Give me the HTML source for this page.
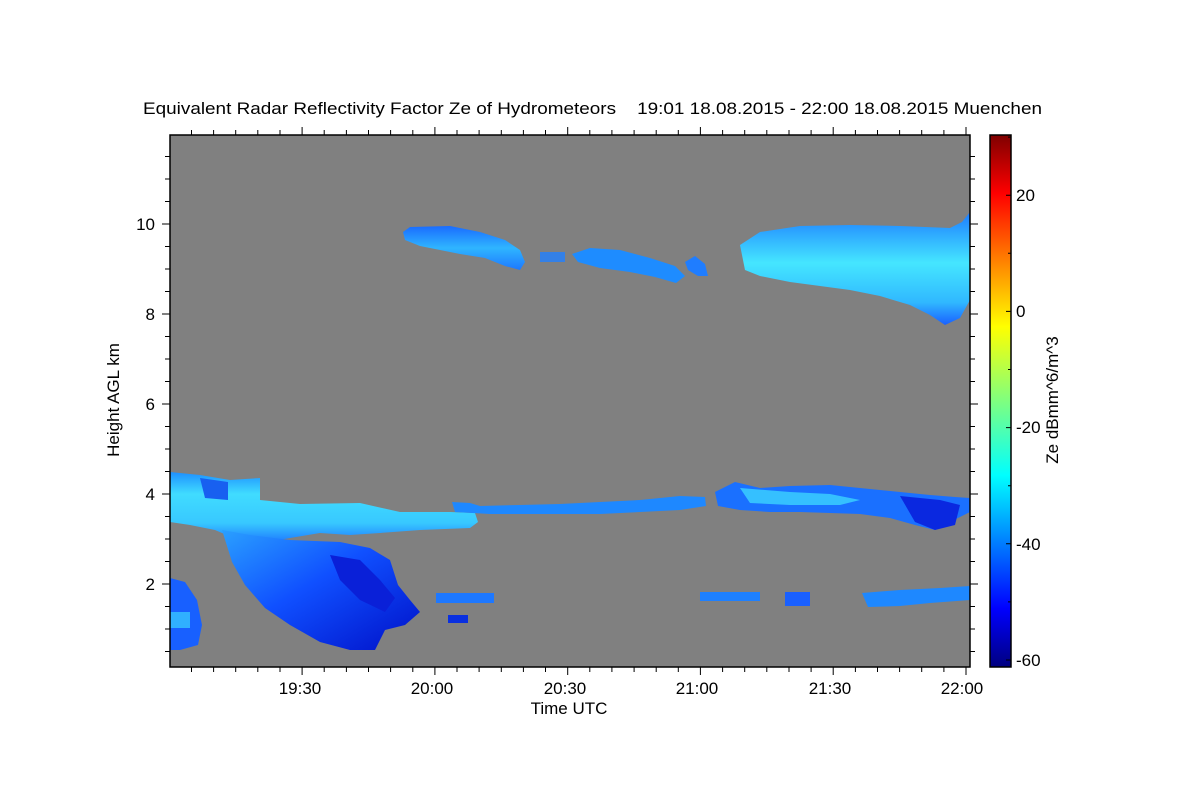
<!DOCTYPE html>
<html><head><meta charset="utf-8"><style>
html,body{margin:0;padding:0;background:#fff;}
svg{display:block;font-family:"Liberation Sans",sans-serif;}
</style></head><body>
<svg width="1200" height="800" viewBox="0 0 1200 800">
<defs>
<linearGradient id="jet" x1="0" y1="1" x2="0" y2="0">
<stop offset="0" stop-color="#00007f"/>
<stop offset="0.11" stop-color="#0000ff"/>
<stop offset="0.36" stop-color="#00ffff"/>
<stop offset="0.5" stop-color="#7fff7f"/>
<stop offset="0.64" stop-color="#ffff00"/>
<stop offset="0.89" stop-color="#ff0000"/>
<stop offset="1" stop-color="#7f0000"/>
</linearGradient>
<linearGradient id="up" x1="0" y1="0" x2="0" y2="1">
<stop offset="0" stop-color="#1a6cff"/><stop offset="0.5" stop-color="#2fb5ff"/><stop offset="1" stop-color="#1e78ff"/>
</linearGradient>
<linearGradient id="upR" x1="0" y1="0" x2="0" y2="1">
<stop offset="0" stop-color="#1d7cff"/><stop offset="0.45" stop-color="#45e6ff"/><stop offset="0.8" stop-color="#30b8ff"/><stop offset="1" stop-color="#1a60ff"/>
</linearGradient>
<linearGradient id="lay" x1="0" y1="0" x2="0" y2="1">
<stop offset="0" stop-color="#1e90ff"/><stop offset="0.3" stop-color="#40dcff"/><stop offset="0.7" stop-color="#38c8ff"/><stop offset="1" stop-color="#1a70ff"/>
</linearGradient>
<linearGradient id="fall" x1="0" y1="0" x2="1" y2="1">
<stop offset="0" stop-color="#2aa0ff"/><stop offset="0.45" stop-color="#1050ff"/><stop offset="1" stop-color="#0010c8"/>
</linearGradient>
</defs>
<rect x="170" y="135" width="800" height="532" fill="#808080"/>
<polygon points="403,232 410,227 450,226 480,232 505,240 520,250 525,262 520,270 505,266 485,258 460,254 440,250 420,246 405,240" fill="url(#up)"/>
<polygon points="572,254 590,248 620,250 650,258 675,266 685,276 676,283 655,277 630,272 600,268 578,262" fill="#1e8cff"/>
<polygon points="685,262 695,256 705,264 708,276 698,276 688,270" fill="#1f7dff"/>
<rect x="540" y="252" width="25" height="10" fill="#2080ff" opacity="0.8"/>
<polygon points="740,245 760,232 800,226 850,225 900,226 950,228 962,222 970,212 970,300 960,318 945,325 930,315 910,305 880,296 850,290 820,286 790,282 760,276 745,270" fill="url(#upR)"/>
<polygon points="170,472 200,475 230,480 260,478 260,500 300,504 360,503 400,512 450,512 475,513 478,522 470,528 420,530 380,533 350,535 320,533 290,538 250,545 215,530 190,525 170,522" fill="url(#lay)"/>
<polygon points="200,478 228,482 228,500 205,498" fill="#1860f0"/>
<polygon points="222,530 250,535 290,540 340,542 370,548 390,560 398,585 410,600 420,612 405,625 385,630 375,650 350,650 320,642 290,625 265,608 245,585 232,562" fill="url(#fall)"/>
<polygon points="330,555 360,560 380,580 395,598 385,612 360,600 340,580" fill="#0a20d8"/>
<polygon points="170,578 185,582 197,600 202,625 198,645 180,650 170,650" fill="#1860ff"/>
<rect x="170" y="612" width="20" height="16" fill="#30b0ff"/>
<polygon points="452,502 470,503 480,506 520,505 560,504 600,502 640,500 680,496 705,497 706,506 680,510 640,512 600,514 540,514 490,514 455,512" fill="#1e88ff"/>
<polygon points="715,492 735,482 760,488 790,486 830,485 860,488 900,492 930,495 955,497 970,498 970,512 950,522 935,530 915,525 890,518 860,514 830,513 800,512 770,512 740,510 718,506" fill="#1a70ff"/>
<polygon points="900,496 940,500 960,505 955,525 935,530 915,522" fill="#0a28e0"/>
<polygon points="740,488 790,492 830,494 860,500 840,505 790,505 750,503" fill="#35c0ff"/>
<rect x="436" y="593" width="58" height="10" fill="#1e78ff"/>
<rect x="448" y="615" width="20" height="8" fill="#0a30e0"/>
<rect x="700" y="592" width="60" height="9" fill="#1e80ff"/>
<rect x="785" y="592" width="25" height="14" fill="#1a60ff"/>
<polygon points="862,593 900,590 940,588 970,586 970,600 930,603 900,606 868,607" fill="#1e88ff"/>
<g stroke="#000" stroke-width="1.5" fill="none">
<rect x="170" y="135" width="800" height="532"/>
<rect x="990" y="135" width="21" height="532" fill="url(#jet)"/>
</g>
<g stroke="#000" stroke-width="1">
<path d="M966,135v-8M833.2,135v-8M700.4,135v-8M567.7,135v-8M434.9,135v-8M302.1,135v-8
M966,667v8M833.2,667v8M700.4,667v8M567.7,667v8M434.9,667v8M302.1,667v8
M943.9,135v-5M921.7,135v-5M899.6,135v-5M877.5,135v-5M855.4,135v-5M811.1,135v-5M789,135v-5M766.8,135v-5M744.7,135v-5M722.6,135v-5M678.3,135v-5M656.2,135v-5M634.1,135v-5M611.9,135v-5M589.8,135v-5M545.5,135v-5M523.4,135v-5M501.3,135v-5M479.1,135v-5M457,135v-5M412.8,135v-5M390.6,135v-5M368.5,135v-5M346.4,135v-5M324.2,135v-5M280,135v-5M257.8,135v-5M235.7,135v-5M213.6,135v-5M191.5,135v-5
M943.9,667v5M921.7,667v5M899.6,667v5M877.5,667v5M855.4,667v5M811.1,667v5M789,667v5M766.8,667v5M744.7,667v5M722.6,667v5M678.3,667v5M656.2,667v5M634.1,667v5M611.9,667v5M589.8,667v5M545.5,667v5M523.4,667v5M501.3,667v5M479.1,667v5M457,667v5M412.8,667v5M390.6,667v5M368.5,667v5M346.4,667v5M324.2,667v5M280,667v5M257.8,667v5M235.7,667v5M213.6,667v5M191.5,667v5"/>
<path d="M170,584h-8M170,494h-8M170,404h-8M170,314h-8M170,224h-8
M970,584h8M970,494h8M970,404h8M970,314h8M970,224h8
M170,651.5h-5M170,629h-5M170,606.5h-5M170,561.5h-5M170,539h-5M170,516.5h-5M170,471.5h-5M170,449h-5M170,426.5h-5M170,381.5h-5M170,359h-5M170,336.5h-5M170,291.5h-5M170,269h-5M170,246.5h-5M170,201.5h-5M170,179h-5M170,156.5h-5
M970,651.5h5M970,629h5M970,606.5h5M970,561.5h5M970,539h5M970,516.5h5M970,471.5h5M970,449h5M970,426.5h5M970,381.5h5M970,359h5M970,336.5h5M970,291.5h5M970,269h5M970,246.5h5M970,201.5h5M970,179h5M970,156.5h5"/>
<path d="M1011,660h-5M1011,543.8h-5M1011,427.6h-5M1011,311.4h-5M1011,195.2h-5
M1011,601.9h-3M1011,485.7h-3M1011,369.5h-3M1011,253.3h-3M1011,137.1h-3"/>
</g>
<g font-size="17" fill="#000">
<text x="143" y="114" textLength="899" lengthAdjust="spacingAndGlyphs" xml:space="preserve">Equivalent Radar Reflectivity Factor Ze of Hydrometeors    19:01 18.08.2015 - 22:00 18.08.2015 Muenchen</text>
<text x="569" y="714" text-anchor="middle">Time UTC</text>
<text transform="translate(119,400) rotate(-90)" text-anchor="middle">Height AGL km</text>
<text transform="translate(1058,400) rotate(-90)" text-anchor="middle">Ze dBmm^6/m^3</text>
<g text-anchor="middle">
<text x="300" y="694">19:30</text><text x="432" y="694">20:00</text><text x="565" y="694">20:30</text>
<text x="697" y="694">21:00</text><text x="830" y="694">21:30</text><text x="962" y="694">22:00</text>
</g>
<g text-anchor="end">
<text x="155" y="230">10</text><text x="155" y="320">8</text><text x="155" y="410">6</text>
<text x="155" y="500">4</text><text x="155" y="590">2</text>
</g>
<g>
<text x="1016" y="201">20</text><text x="1016" y="317">0</text><text x="1016" y="433">-20</text>
<text x="1016" y="550">-40</text><text x="1016" y="666">-60</text>
</g>
</g>
</svg>
</body></html>
